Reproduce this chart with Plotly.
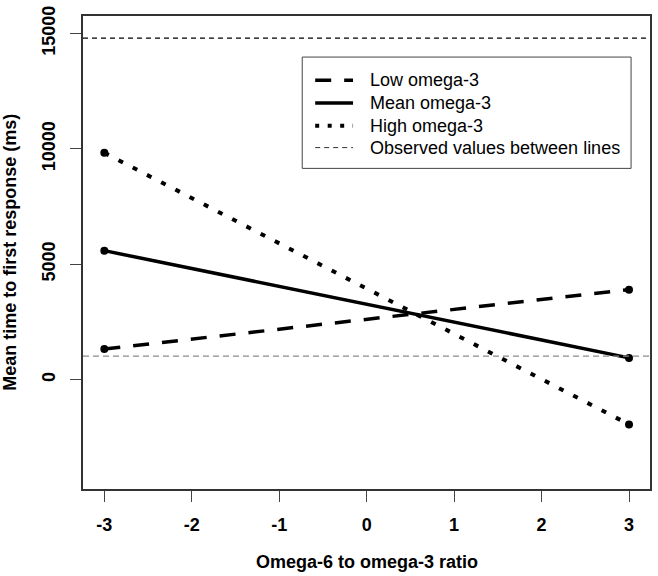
import plotly.graph_objects as go

# ---------------- data ----------------
ratio_x = [-3, 3]
low_omega3 = [1330, 3900]
mean_omega3 = [5590, 943]
high_omega3 = [9830, -1940]
observed_bounds = [1016, 14800]          # lower (grey), upper (black)
x_ticks = [-3, -2, -1, 0, 1, 2, 3]
y_ticks = [0, 5000, 10000, 15000]
legend_labels = ["Low omega-3", "Mean omega-3", "High omega-3",
                 "Observed values between lines"]

# ---------------- layout geometry ----------------
W, H = 658, 576
L, R, T, B = 83, 6, 11, 87
PW, PH = W - L - R, H - T - B


def px(xp):
    return (xp - L) / PW


def py(yp):
    return (H - B - yp) / PH


FONT = "Arial, Liberation Sans, sans-serif"
LOW_DASH = "16px,13px"
HIGH_DASH = "5px,11px"

fig = go.Figure()

styles = [
    dict(color="black", width=3.5, dash=LOW_DASH),
    dict(color="black", width=3.5),
    dict(color="black", width=4, dash=HIGH_DASH),
]
for name, ys, st in zip(legend_labels[:3], [low_omega3, mean_omega3, high_omega3], styles):
    fig.add_trace(go.Scatter(
        x=ratio_x, y=ys, mode="lines+markers", name=name,
        line=st, marker=dict(color="black", size=8), showlegend=False))

# observed-value boundary lines
fig.add_shape(type="line", xref="paper", yref="y", x0=0, x1=1,
              y0=observed_bounds[0], y1=observed_bounds[0],
              line=dict(color="#8a8a8a", width=1.2, dash="6px,4px"))
fig.add_shape(type="line", xref="paper", yref="y", x0=0, x1=1,
              y0=observed_bounds[1], y1=observed_bounds[1],
              line=dict(color="black", width=1.2, dash="5px,4px"))

# ---------------- manual legend ----------------
fig.add_shape(type="rect", xref="paper", yref="paper",
              x0=px(303), x1=px(633), y0=py(165), y1=py(52.5),
              line=dict(color="#444", width=1), fillcolor="white", layer="above")
rows = [76, 99, 122, 144]
leg_styles = [
    dict(color="black", width=3.5, dash=LOW_DASH),
    dict(color="black", width=3.5),
    dict(color="black", width=4, dash="4px,8.5px"),
    dict(color="#333", width=1, dash="5px,4px"),
]
for lab, r, st in zip(legend_labels, rows, leg_styles):
    fig.add_shape(type="line", xref="paper", yref="paper",
                  x0=px(316), x1=px(354), y0=py(r), y1=py(r),
                  line=st, layer="above")
    fig.add_annotation(text=lab, xref="paper", yref="paper",
                       x=px(369), y=py(r), xanchor="left", yanchor="middle",
                       showarrow=False,
                       font=dict(family=FONT, size=18, color="black"))

# axis titles
fig.add_annotation(text="<b>Omega-6 to omega-3 ratio</b>", xref="paper", yref="paper",
                   x=0.5, y=py(563), xanchor="center", yanchor="middle",
                   showarrow=False, font=dict(family=FONT, size=18, color="black"))
fig.add_annotation(text="<b>Mean time to first response (ms)</b>", xref="paper", yref="paper",
                   x=px(9), y=0.5, xanchor="center", yanchor="middle", textangle=-90,
                   showarrow=False, font=dict(family=FONT, size=18, color="black"))

axis_common = dict(showgrid=False, zeroline=False, showline=True, mirror=True,
                   linecolor="#333", linewidth=1.5, ticks="outside", ticklen=11,
                   tickcolor="#444", tickwidth=1.3,
                   tickfont=dict(family=FONT, size=18, color="black", weight="bold"))

fig.update_layout(
    width=W, height=H,
    margin=dict(l=L, r=R, t=T, b=B),
    paper_bgcolor="white", plot_bgcolor="white",
    showlegend=False,
    xaxis=dict(range=[-3.244, 3.24], tickvals=x_ticks,
               ticktext=[str(v) for v in x_ticks], ticklabelstandoff=8, **axis_common),
    yaxis=dict(range=[-4740, 15760], tickvals=y_ticks,
               ticktext=[str(v) for v in y_ticks], tickangle=-90,
               ticklabelstandoff=8, **axis_common),
)

fig.write_html("out.html")
